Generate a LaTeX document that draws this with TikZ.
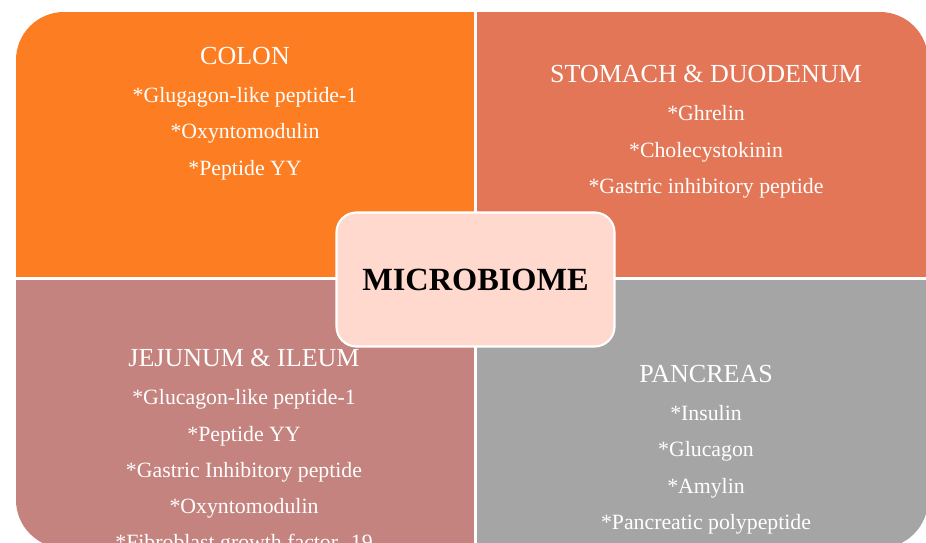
\documentclass[tikz,border=0pt]{standalone}
\usepackage{fontspec}
\setmainfont{Liberation Serif}
\usepackage{xcolor}
\usetikzlibrary{positioning}

\definecolor{colonorange}{RGB}{253,125,34}
\definecolor{stomachred}{RGB}{227,118,86}
\definecolor{jejunumrose}{RGB}{196,131,126}
\definecolor{pancreasgray}{RGB}{165,165,165}
\definecolor{hubpink}{RGB}{255,217,206}

\begin{document}
\begin{tikzpicture}[
    % pixel grid of the reference, y pointing down
    x=0.025cm, y=-0.025cm,
    organ/.style={text=white, inner sep=0pt, font=\fontsize{18.5}{22}\selectfont},
    hormones/.style={
        text=white, inner sep=0pt, align=center,
        font=\fontsize{15.5}{25.7}\selectfont
    },
    hub/.style={
        rectangle, rounded corners=0.5cm, draw=white, line width=1.5pt,
        fill=hubpink, minimum width=6.95cm, minimum height=3.35cm,
        font=\bfseries\fontsize{23}{27}\selectfont
    }
]
\useasboundingbox (0,0) rectangle (926,543);

% 1. Quadrants (clipped to one rounded outline)
\begin{scope}
    \clip[rounded corners=1.2cm] (16,12) rectangle (928,548);
    \fill[colonorange] (16,12) rectangle (474,277);
    \fill[stomachred] (477,12) rectangle (928,277);
    \fill[jejunumrose] (16,280) rectangle (474,548);
    \fill[pancreasgray] (477,280) rectangle (928,548);
\end{scope}

% 2. Organ titles
\node[organ] (colon) at (245,56) {COLON};
\node[organ] (stomach) at (706,74) {STOMACH \& DUODENUM};
\node[organ] (jejunum) at (244,358) {JEJUNUM \& ILEUM};
\node[organ] (pancreas) at (706,374) {PANCREAS};

% 3. Hormone lists (below each title)
\node[hormones, below=0.56cm of colon] (colonlist) {
    *Glugagon-like peptide-1 \\
    *Oxyntomodulin \\
    *Peptide YY
};
\node[hormones, below=0.56cm of stomach] (stomachlist) {
    *Ghrelin \\
    *Cholecystokinin \\
    *Gastric inhibitory peptide
};
\node[hormones, below=0.56cm of jejunum] (jejunumlist) {
    *Glucagon-like peptide-1 \\
    *Peptide YY \\
    *Gastric Inhibitory peptide \\
    *Oxyntomodulin \\
    *Fibroblast growth factor -19
};
\node[hormones, below=0.56cm of pancreas] (pancreaslist) {
    *Insulin \\
    *Glucagon \\
    *Amylin \\
    *Pancreatic polypeptide
};

% 4. Centre box
\node[hub] (microbiome) at (475.5,279.5) {MICROBIOME};

\end{tikzpicture}
\end{document}
